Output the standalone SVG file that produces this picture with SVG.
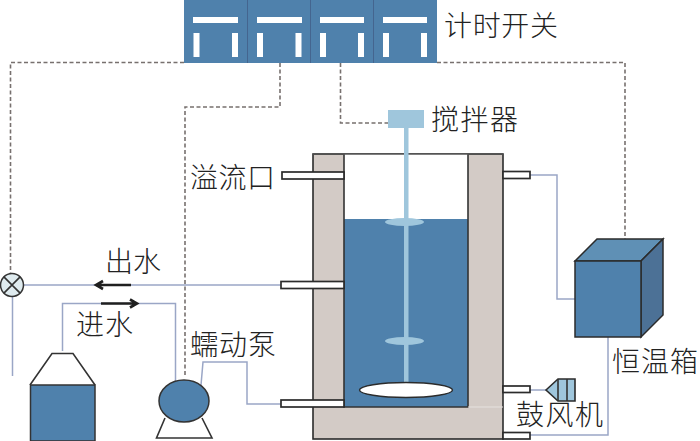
<svg xmlns="http://www.w3.org/2000/svg" width="700" height="441" viewBox="0 0 700 441">
<style>
text{font-family:"Noto Sans CJK SC","Noto Sans CJK JP",sans-serif;font-size:28px;font-weight:300;fill:#222}
.blue{fill:#4f81ac}
.wall{fill:#d3cbc6;stroke:#2b2b2b;stroke-width:1.6}
.tube{fill:#fff;stroke:#2b2b2b;stroke-width:1.7}
.pipe{fill:none;stroke:#9aa6c6;stroke-width:1.5}
.dash{fill:none;stroke:#77706e;stroke-width:1.6;stroke-dasharray:4 2.5}
.ink{fill:none;stroke:#333;stroke-width:1.6}
.bar{fill:#fff}
.lb{fill:#9fc6dc}
.arr{fill:none;stroke:#1f1f1f;stroke-width:2.6}
</style>
<rect width="700" height="441" fill="#fff"/>
<g id="connectors">
<path class="dash" d="M184 62.500H10.500V273"/>
<path class="dash" d="M437 62.500H625V239"/>
<path class="dash" d="M280 63V107H185V376"/>
<path class="dash" d="M340.500 63V123H388"/>
<path class="pipe" d="M24 285H281"/>
<path class="pipe" d="M12.500 297V376"/>
<path class="pipe" d="M62.500 351V303.500H175.500V381"/>
<path class="pipe" d="M201 385L203 362H247V404H281"/>
<path class="pipe" d="M530 175H557V299H575"/>
<path class="pipe" d="M608 337V435H530"/>
<path class="pipe" d="M452 390H546"/>
<path class="arr" d="M131 285H97M103 281L96 285L103 289"/>
<path class="arr" d="M101 303.500H136M130 299.500L137 303.500L130 307.500"/>
</g>
<g id="timer-switch">
<rect class="blue" x="184" y="0" width="253" height="63"/>
<path d="M247.500 0V63M310.500 0V63M373.500 0V63" stroke="#44658f" stroke-width="1" fill="none"/>
<rect class="bar" x="193" y="17" width="45" height="6"/><rect class="bar" x="193.500" y="33" width="6" height="24"/><rect class="bar" x="232" y="33" width="6" height="24"/>
<rect class="bar" x="257" y="17" width="45" height="6"/><rect class="bar" x="257" y="33" width="6" height="24"/><rect class="bar" x="295.500" y="33" width="6" height="24"/>
<rect class="bar" x="320" y="17" width="44" height="6"/><rect class="bar" x="320" y="33" width="6" height="24"/><rect class="bar" x="358" y="33" width="6" height="24"/>
<rect class="bar" x="383" y="17" width="44" height="6"/><rect class="bar" x="383" y="33" width="6" height="24"/><rect class="bar" x="421" y="33" width="6" height="24"/>
<text x="444" y="36" textLength="114">计时开关</text>
</g>
<g id="reactor">
<rect class="wall" x="313" y="154" width="190" height="285"/>
<rect x="344" y="154" width="124" height="253" fill="#fff"/>
<rect class="blue" x="344" y="219" width="124" height="188"/>
<path class="ink" d="M344 154V407H468V154"/>
<path d="M313 154H503" stroke="#555" stroke-width="1.5"/>
<path d="M468 407H503" stroke="#e6e2df" stroke-width="1"/>
<rect class="tube" x="282" y="172" width="62" height="7"/>
<rect class="tube" x="281" y="281.500" width="63" height="7"/>
<rect class="tube" x="281" y="400" width="63" height="7"/>
<rect class="tube" x="503" y="171.500" width="27" height="7"/>
<rect class="tube" x="503" y="386" width="27" height="6.500"/>
<rect class="tube" x="503" y="432.500" width="27" height="6.500"/>
<text x="190" y="188" textLength="85">溢流口</text>
<text x="105" y="272" textLength="56">出水</text>
</g>
<g id="stirrer">
<rect x="404" y="127" width="4.500" height="258" class="lb"/>
<rect class="lb" x="388" y="110" width="36" height="18"/>
<ellipse class="lb" cx="404.500" cy="222" rx="19.500" ry="4"/>
<ellipse class="lb" cx="404.500" cy="341" rx="19.500" ry="4"/>
<text x="431" y="130" textLength="87">搅拌器</text>
</g>
<g id="aerator">
<ellipse cx="406" cy="390" rx="46.500" ry="7.500" fill="#fff" stroke="#2b2b2b" stroke-width="1.4"/>
</g>
<g id="blower">
<path class="lb" d="M546 390L558 379H575V401H558Z" stroke="#2b2b2b" stroke-width="1.6"/>
<path class="ink" d="M558 379V401M567 379V401"/>
<text x="516" y="425" textLength="87">鼓风机</text>
</g>
<g id="thermostat">
<path d="M575 261L597 239H663L641 261Z" fill="#5f90b5" stroke="#2b2b2b" stroke-width="1.5"/>
<path d="M641 261L663 239V315L641 337Z" fill="#4c7196" stroke="#2b2b2b" stroke-width="1.5"/>
<rect class="blue" x="575" y="261" width="66" height="76" stroke="#2b2b2b" stroke-width="1.5"/>
<text x="612" y="372" textLength="86">恒温箱</text>
</g>
<g id="valve">
<circle cx="12" cy="285" r="11.500" fill="#dfebef" stroke="#333" stroke-width="1.5"/>
<path class="ink" d="M3.900 276.900L20.100 293.100M20.100 276.900L3.900 293.100"/>
</g>
<g id="feed-tank">
<path class="ink" d="M30 385L52 353.500H73L95 385"/>
<rect class="blue" x="30.500" y="385" width="64.500" height="56" stroke="#333" stroke-width="1.5"/>
<text x="76" y="335" textLength="57">进水</text>
</g>
<g id="pump">
<path class="ink" d="M165 418L156.500 438H212L202 418"/>
<ellipse class="blue" cx="184" cy="401" rx="25" ry="21" stroke="#333" stroke-width="1.5"/>
<text x="190" y="355" textLength="86">蠕动泵</text>
</g>
</svg>
